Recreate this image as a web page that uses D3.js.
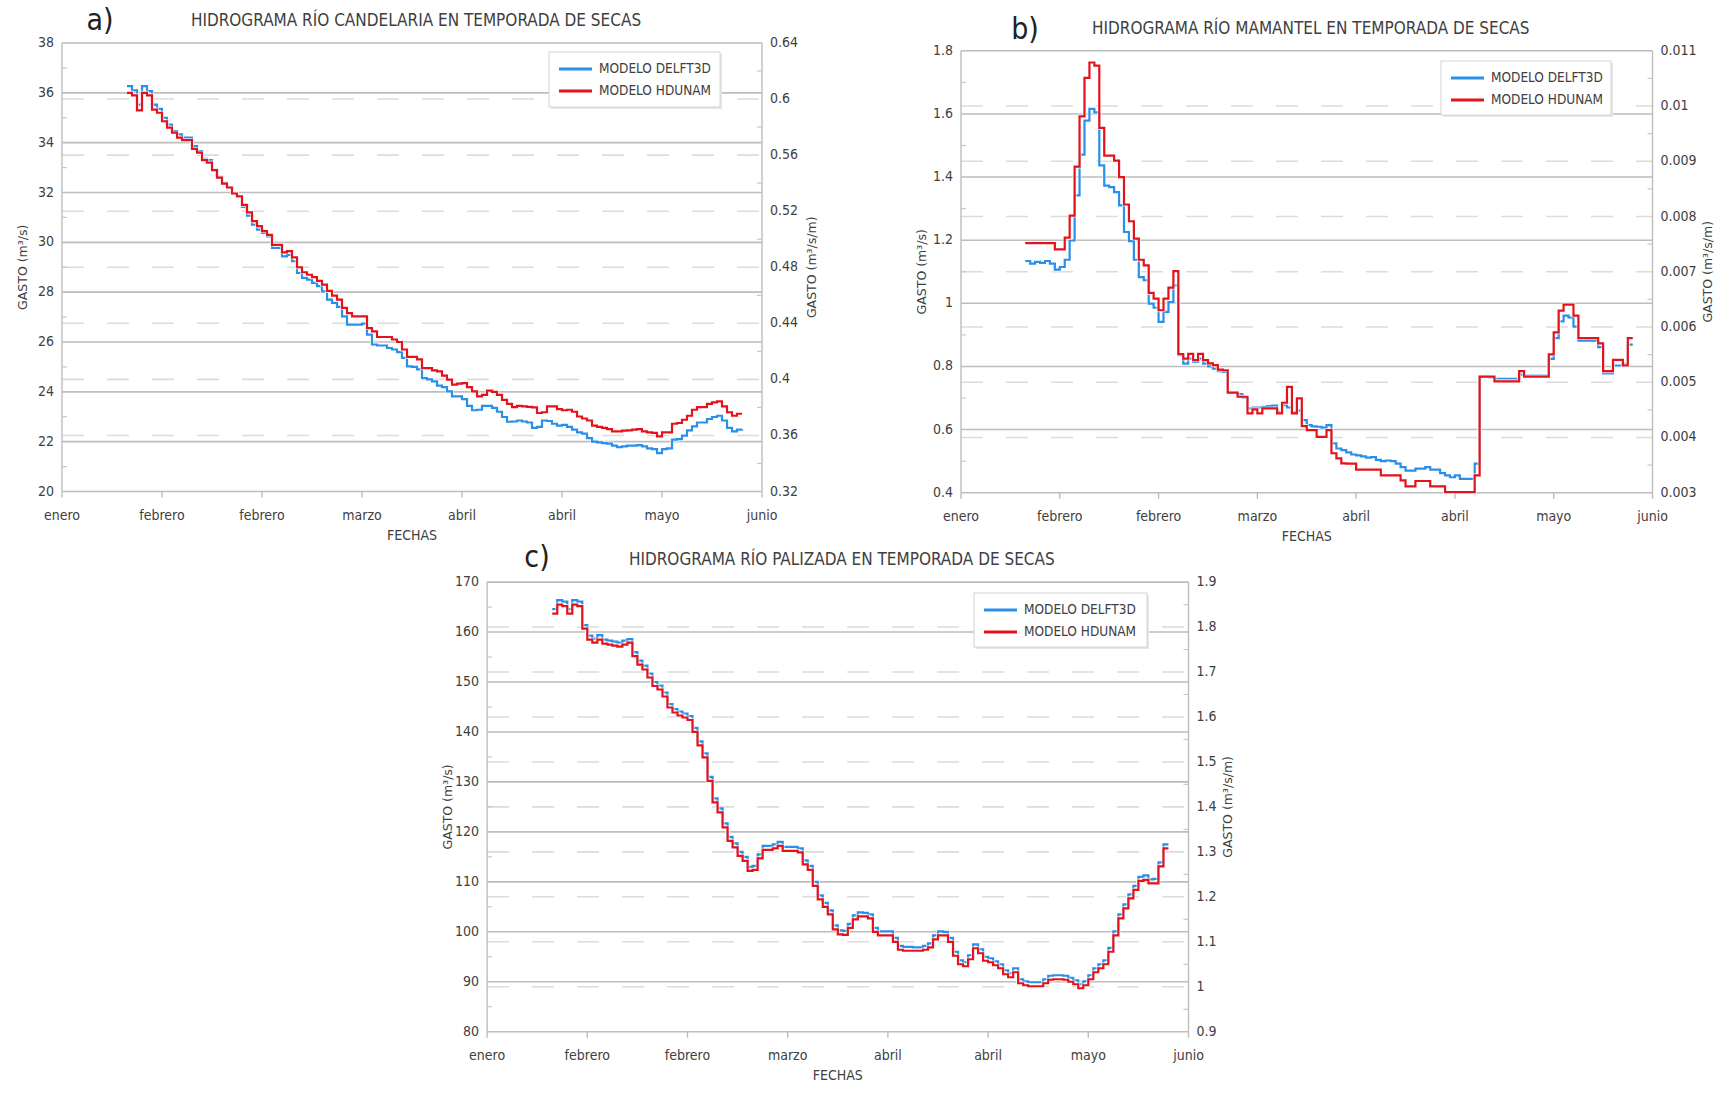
<!DOCTYPE html>
<html>
<head>
<meta charset="utf-8">
<script src="https://cdn.jsdelivr.net/npm/d3@7"></script>
<style>
  body { margin: 0; background: #fff; }
  svg text { font-family: "Liberation Sans Narrow", "DejaVu Sans Condensed", "Arial Narrow", sans-serif; fill: #404040; }
  svg text.axis-title { font-family: "DejaVu Sans", sans-serif; }
</style>
</head>
<body>
<svg id="chart" width="1732" height="1094"></svg>
<script>
// ---- shared x axis (one value per day, first value on 29 Jan) ----
const seriesStart = "2000-01-29";
const xTickDates = ["2000-01-16", "2000-02-05", "2000-02-25", "2000-03-16", "2000-04-05", "2000-04-25", "2000-05-15", "2000-06-04"];
const seriesNames = ["MODELO DELFT3D", "MODELO HDUNAM"];

// ---- a) Candelaria ----
const candelariaLeftTicks = [20, 22, 24, 26, 28, 30, 32, 34, 36, 38];
const candelariaRightTicks = [0.32, 0.36, 0.4, 0.44, 0.48, 0.52, 0.56, 0.6, 0.64];
const candelariaDelft = [
  36.27, 36.1, 35.53, 36.27, 36.07, 35.53, 35.36, 35.0, 34.73, 34.46,
  34.33, 34.2, 34.2, 33.86, 33.66, 33.35, 33.3, 32.92, 32.63, 32.39,
  32.2, 31.96, 31.82, 31.42, 31.07, 30.71, 30.51, 30.38, 30.24, 29.78,
  29.78, 29.44, 29.5, 29.24, 28.77, 28.57, 28.5, 28.37, 28.24, 28.03,
  27.7, 27.57, 27.41, 27.03, 26.7, 26.7, 26.7, 26.74, 26.3, 25.9,
  25.86, 25.86, 25.76, 25.7, 25.59, 25.36, 25.02, 25.0, 24.9, 24.55,
  24.5, 24.42, 24.25, 24.19, 24.02, 23.82, 23.82, 23.71, 23.44, 23.26,
  23.28, 23.44, 23.44, 23.36, 23.2, 22.99, 22.8, 22.81, 22.85, 22.81,
  22.77, 22.55, 22.59, 22.85, 22.83, 22.72, 22.64, 22.67, 22.59, 22.48,
  22.37, 22.32, 22.14, 22.0, 21.97, 21.94, 21.92, 21.84, 21.78, 21.81,
  21.84, 21.84, 21.86, 21.81, 21.73, 21.7, 21.54, 21.7, 21.73, 22.08,
  22.1, 22.24, 22.45, 22.61, 22.77, 22.77, 22.91, 22.99, 23.04, 22.85,
  22.55, 22.41, 22.48, 22.5
];
const candelariaHdunam = [
  36.0, 35.9, 35.3, 36.0, 35.9, 35.33, 35.2, 34.86, 34.6, 34.4,
  34.2, 34.1, 34.1, 33.75, 33.6, 33.3, 33.2, 32.9, 32.6, 32.36,
  32.2, 31.96, 31.85, 31.5, 31.2, 30.85, 30.65, 30.45, 30.3, 29.9,
  29.9, 29.6, 29.65, 29.4, 29.0, 28.8, 28.7, 28.6, 28.45, 28.3,
  28.05, 27.86, 27.7, 27.37, 27.16, 27.03, 27.03, 27.03, 26.56, 26.43,
  26.2, 26.2, 26.2, 26.1, 26.0, 25.7, 25.4, 25.4, 25.3, 24.95,
  24.95, 24.86, 24.82, 24.65, 24.49, 24.29, 24.33, 24.35, 24.19, 24.02,
  23.82, 23.88, 24.05, 24.0, 23.88, 23.68, 23.52, 23.39, 23.44, 23.42,
  23.4, 23.38, 23.15, 23.18, 23.42, 23.42, 23.31, 23.26, 23.28, 23.2,
  23.01, 22.93, 22.85, 22.64, 22.59, 22.55, 22.5, 22.41, 22.41, 22.44,
  22.45, 22.48, 22.5, 22.41, 22.37, 22.35, 22.21, 22.37, 22.37, 22.72,
  22.75, 22.88, 23.04, 23.28, 23.39, 23.39, 23.52, 23.58, 23.62, 23.42,
  23.18, 23.04, 23.12, 23.12
];

// ---- b) Mamantel ----
const mamantelLeftTicks = [0.4, 0.6, 0.8, 1, 1.2, 1.4, 1.6, 1.8];
const mamantelRightTicks = [0.003, 0.004, 0.005, 0.006, 0.007, 0.008, 0.009, 0.01, 0.011];
const mamantelDelft = [
  1.134, 1.126, 1.131, 1.128, 1.134, 1.126, 1.107, 1.115, 1.138, 1.199,
  1.342, 1.471, 1.579, 1.616, 1.605, 1.437, 1.373, 1.368, 1.352, 1.31,
  1.226, 1.197, 1.138, 1.083, 1.073, 0.999, 0.986, 0.941, 0.973, 1.004,
  1.057, 0.836, 0.809, 0.825, 0.814, 0.825, 0.809, 0.80, 0.793, 0.785,
  0.783, 0.717, 0.717, 0.712, 0.70, 0.667, 0.67, 0.67, 0.672, 0.674,
  0.676, 0.656, 0.677, 0.67, 0.655, 0.66, 0.63, 0.614, 0.61, 0.609,
  0.606, 0.614, 0.556, 0.54, 0.535, 0.528, 0.521, 0.518, 0.515, 0.511,
  0.513, 0.504, 0.50, 0.502, 0.50, 0.492, 0.481, 0.47, 0.47, 0.476,
  0.476, 0.481, 0.473, 0.473, 0.462, 0.455, 0.449, 0.455, 0.444, 0.444,
  0.444, 0.492, 0.768, 0.768, 0.765, 0.761, 0.761, 0.761, 0.761, 0.761,
  0.774, 0.771, 0.771, 0.771, 0.771, 0.771, 0.824, 0.89, 0.943, 0.961,
  0.955, 0.926, 0.882, 0.882, 0.882, 0.882, 0.861, 0.778, 0.778, 0.803,
  0.803, 0.808, 0.869, 0.869
];
const mamantelHdunam = [
  1.191, 1.191, 1.191, 1.191, 1.191, 1.191, 1.171, 1.171, 1.208, 1.278,
  1.433, 1.592, 1.714, 1.763, 1.753, 1.556, 1.468, 1.468, 1.452, 1.40,
  1.313, 1.26, 1.205, 1.138, 1.12, 1.033, 1.015, 0.978, 1.015, 1.05,
  1.102, 0.839, 0.825, 0.84, 0.82, 0.84, 0.82, 0.81, 0.804, 0.79,
  0.788, 0.717, 0.717, 0.704, 0.704, 0.651, 0.664, 0.651, 0.667, 0.667,
  0.667, 0.651, 0.685, 0.735, 0.651, 0.699, 0.611, 0.598, 0.598, 0.577,
  0.577, 0.598, 0.525, 0.509, 0.493, 0.492, 0.492, 0.473, 0.473, 0.473,
  0.473, 0.473, 0.455, 0.455, 0.455, 0.455, 0.439, 0.42, 0.42, 0.437,
  0.437, 0.437, 0.42, 0.42, 0.42, 0.402, 0.402, 0.402, 0.402, 0.402,
  0.402, 0.455, 0.768, 0.768, 0.768, 0.753, 0.753, 0.753, 0.753, 0.753,
  0.785, 0.768, 0.768, 0.768, 0.768, 0.768, 0.838, 0.908, 0.977, 0.996,
  0.996, 0.961, 0.89, 0.89, 0.89, 0.89, 0.873, 0.785, 0.785, 0.821,
  0.821, 0.803, 0.89, 0.89
];

// ---- c) Palizada ----
const palizadaLeftTicks = [80, 90, 100, 110, 120, 130, 140, 150, 160, 170];
const palizadaRightTicks = [0.9, 1, 1.1, 1.2, 1.3, 1.4, 1.5, 1.6, 1.7, 1.8, 1.9];
const palizadaDelft = [
  164.6, 166.4, 166.1, 164.6, 166.4, 166.1, 161.4, 159.3, 158.7, 159.4,
  158.5, 158.3, 158.1, 157.9, 158.3, 158.6, 156.0, 154.3, 153.3, 151.7,
  150.0, 149.3, 147.9, 145.6, 144.6, 144.1, 143.7, 143.2, 140.8, 138.1,
  135.7, 131.0, 126.7, 124.7, 121.7, 119.0, 117.7, 116.0, 115.0, 113.0,
  113.2, 115.5, 117.2, 117.2, 117.5, 118.0, 117.0, 117.0, 117.0, 116.7,
  114.3, 113.2, 110.0, 107.3, 105.8, 104.3, 101.3, 100.3, 100.2, 101.6,
  103.3, 103.9, 103.8, 103.5, 100.8, 100.1, 100.1, 100.1, 98.8, 97.2,
  97.0, 97.0, 96.9, 96.9, 97.2, 97.7, 99.3, 100.1, 100.0, 98.8,
  96.0, 94.3, 93.9, 95.3, 97.5, 96.5, 95.0, 94.7, 94.1, 93.5,
  92.3, 91.7, 92.7, 90.5, 90.1, 89.9, 89.9, 89.9, 90.5, 91.2,
  91.3, 91.3, 91.2, 90.8, 90.3, 89.5, 90.1, 91.3, 92.7, 93.5,
  94.3, 96.8, 100.1, 103.5, 105.5, 107.5, 109.2, 111.0, 111.3, 110.5,
  110.6, 113.9, 117.5, 117.5
];
const palizadaHdunam = [
  163.7, 165.5, 165.2, 163.7, 165.5, 165.2, 160.7, 158.5, 157.9, 158.5,
  157.7, 157.5, 157.3, 157.1, 157.5, 157.9, 155.2, 153.5, 152.5, 150.9,
  149.2, 148.5, 147.1, 144.9, 143.9, 143.3, 142.9, 142.4, 140.0, 137.3,
  134.9, 130.2, 125.9, 123.9, 120.9, 118.2, 116.9, 115.2, 114.2, 112.2,
  112.4, 114.7, 116.4, 116.4, 116.7, 117.2, 116.2, 116.2, 116.2, 115.9,
  113.5, 112.4, 109.2, 106.5, 105.0, 103.5, 100.5, 99.5, 99.4, 100.8,
  102.5, 103.1, 103.1, 102.7, 100.0, 99.3, 99.3, 99.3, 98.0, 96.4,
  96.2, 96.2, 96.2, 96.2, 96.4, 96.9, 98.5, 99.3, 99.3, 98.0,
  95.2, 93.5, 93.1, 94.5, 96.7, 95.7, 94.2, 93.9, 93.3, 92.7,
  91.5, 90.9, 91.9, 89.7, 89.3, 89.1, 89.1, 89.1, 89.7, 90.4,
  90.5, 90.5, 90.4, 90.0, 89.5, 88.7, 89.3, 90.5, 91.9, 92.7,
  93.5, 96.0, 99.3, 102.7, 104.7, 106.7, 108.4, 110.2, 110.4, 109.7,
  109.7, 113.1, 116.7, 116.7
];

const BLUE = "#2a8fe8";
const RED = "#e3121b";

// Spanish month names for the date axis
const esLocale = d3.timeFormatLocale({
  dateTime: "%A, %e de %B de %Y, %X", date: "%d/%m/%Y", time: "%H:%M:%S", periods: ["AM", "PM"],
  days: ["domingo", "lunes", "martes", "miércoles", "jueves", "viernes", "sábado"],
  shortDays: ["dom", "lun", "mar", "mié", "jue", "vie", "sáb"],
  months: ["enero", "febrero", "marzo", "abril", "mayo", "junio", "julio", "agosto", "septiembre", "octubre", "noviembre", "diciembre"],
  shortMonths: ["ene", "feb", "mar", "abr", "may", "jun", "jul", "ago", "sep", "oct", "nov", "dic"]
});
const monthName = esLocale.utcFormat("%B");
const parseDay = d3.utcParse("%Y-%m-%d");
const numLabel = v => String(+v.toFixed(4));

const svg = d3.select("#chart");
svg.append("rect").attr("width", 1732).attr("height", 1094).attr("fill", "#fff");

/**
 * Draw one hydrograph panel
 */
function drawChart(cfg) {
  const { box } = cfg;
  const g = svg.append("g");
  const tickDates = xTickDates.map(parseDay);
  const start = parseDay(seriesStart);

  const x = d3.scaleUtc()
    .domain([tickDates[0], tickDates[tickDates.length - 1]])
    .range([box.x0, box.x1]);
  const yL = d3.scaleLinear()
    .domain([cfg.leftTicks[0], cfg.leftTicks[cfg.leftTicks.length - 1]])
    .range([box.y1, box.y0]);
  const yR = d3.scaleLinear()
    .domain([cfg.rightTicks[0], cfg.rightTicks[cfg.rightTicks.length - 1]])
    .range([box.y1, box.y0]);

  // dashed grid at the secondary axis ticks
  g.append("g").selectAll("line")
    .data(cfg.rightTicks.slice(1, -1))
    .join("line")
    .attr("x1", box.x0).attr("x2", box.x1)
    .attr("y1", d => yR(d)).attr("y2", d => yR(d))
    .attr("stroke", "#dcdcdc").attr("stroke-width", 1.6)
    .attr("stroke-dasharray", "22,23");

  // solid grid at the main axis ticks
  g.append("g").selectAll("line")
    .data(cfg.leftTicks)
    .join("line")
    .attr("x1", box.x0).attr("x2", box.x1)
    .attr("y1", d => yL(d)).attr("y2", d => yL(d))
    .attr("stroke", "#bdbdbd").attr("stroke-width", 1.6);

  // vertical axis lines
  g.append("line").attr("x1", box.x0).attr("x2", box.x0).attr("y1", box.y0).attr("y2", box.y1)
    .attr("stroke", "#bdbdbd").attr("stroke-width", 1.4);
  g.append("line").attr("x1", box.x1).attr("x2", box.x1).attr("y1", box.y0).attr("y2", box.y1)
    .attr("stroke", "#bdbdbd").attr("stroke-width", 1.4);

  // minor ticks (midpoints)
  const leftMinor = d3.pairs(cfg.leftTicks, (a, b) => (a + b) / 2);
  const rightMinor = d3.pairs(cfg.rightTicks, (a, b) => (a + b) / 2);
  g.append("g").selectAll("line").data(leftMinor).join("line")
    .attr("x1", box.x0).attr("x2", box.x0 + 5)
    .attr("y1", d => yL(d)).attr("y2", d => yL(d))
    .attr("stroke", "#c8c8c8").attr("stroke-width", 1.2);
  g.append("g").selectAll("line").data(rightMinor).join("line")
    .attr("x1", box.x1 - 5).attr("x2", box.x1)
    .attr("y1", d => yR(d)).attr("y2", d => yR(d))
    .attr("stroke", "#c8c8c8").attr("stroke-width", 1.2);

  // x ticks and month labels
  g.append("g").selectAll("line").data(tickDates).join("line")
    .attr("x1", d => x(d)).attr("x2", d => x(d))
    .attr("y1", box.y1).attr("y2", box.y1 + 6)
    .attr("stroke", "#bdbdbd").attr("stroke-width", 1.4);
  g.append("g").selectAll("text").data(tickDates).join("text")
    .attr("x", d => x(d)).attr("y", box.y1 + 24)
    .attr("text-anchor", "middle").attr("dominant-baseline", "middle")
    .attr("font-size", 14)
    .text(d => monthName(d));

  // y labels
  g.append("g").selectAll("text").data(cfg.leftTicks).join("text")
    .attr("x", box.x0 - 8).attr("y", d => yL(d))
    .attr("text-anchor", "end").attr("dominant-baseline", "middle")
    .attr("font-size", 14)
    .text(numLabel);
  g.append("g").selectAll("text").data(cfg.rightTicks).join("text")
    .attr("x", box.x1 + 8).attr("y", d => yR(d))
    .attr("text-anchor", "start").attr("dominant-baseline", "middle")
    .attr("font-size", 14)
    .text(numLabel);

  // axis titles
  const midY = (box.y0 + box.y1) / 2;
  g.append("text").attr("class", "axis-title")
    .attr("transform", `translate(${box.x0 - 39},${midY}) rotate(-90)`)
    .attr("text-anchor", "middle").attr("dominant-baseline", "middle")
    .attr("font-size", 12.5)
    .text("GASTO (m³/s)");
  g.append("text").attr("class", "axis-title")
    .attr("transform", `translate(${box.x1 + cfg.rightTitleGap},${midY}) rotate(-90)`)
    .attr("text-anchor", "middle").attr("dominant-baseline", "middle")
    .attr("font-size", 12.5)
    .text("GASTO (m³/s/m)");
  g.append("text")
    .attr("x", (box.x0 + box.x1) / 2).attr("y", box.y1 + 44)
    .attr("text-anchor", "middle").attr("dominant-baseline", "middle")
    .attr("font-size", 14)
    .text("FECHAS");

  // chart title and panel tag
  g.append("text")
    .attr("x", (box.x0 + box.x1) / 2 + 4).attr("y", box.y0 - 22)
    .attr("text-anchor", "middle").attr("dominant-baseline", "middle")
    .attr("font-size", 17)
    .text(cfg.title);
  g.append("text")
    .attr("x", cfg.tag.x).attr("y", cfg.tag.y)
    .attr("text-anchor", "middle").attr("dominant-baseline", "middle")
    .attr("font-size", 30)
    .style("fill", "#222")
    .text(cfg.tag.label);

  // the two step lines
  const line = d3.line()
    .x((d, i) => x(d3.utcDay.offset(start, i)))
    .y(d => yL(d))
    .curve(d3.curveStepAfter);
  [[cfg.blue, BLUE], [cfg.red, RED]].forEach(([values, color]) => {
    g.append("path")
      .datum(values)
      .attr("fill", "none")
      .attr("stroke", "#fff").attr("stroke-opacity", 0.7)
      .attr("stroke-width", 4)
      .attr("d", line);
    g.append("path")
      .datum(values)
      .attr("fill", "none")
      .attr("stroke", color)
      .attr("stroke-width", 2.2)
      .attr("d", line);
  });

  // legend
  const lg = cfg.legend;
  const leg = g.append("g").attr("transform", `translate(${lg.x},${lg.y})`);
  leg.append("rect").attr("x", 2).attr("y", 2).attr("width", lg.w).attr("height", lg.h)
    .attr("fill", "#e6e6e6");
  leg.append("rect").attr("width", lg.w).attr("height", lg.h)
    .attr("fill", "#fff").attr("stroke", "#d4d4d4").attr("stroke-width", 1);
  leg.selectAll("g.item")
    .data([[seriesNames[0], BLUE], [seriesNames[1], RED]])
    .join("g").attr("class", "item")
    .attr("transform", (d, i) => `translate(10,${17 + i * 22})`)
    .call(item => item.append("line")
      .attr("x1", 0).attr("x2", 33).attr("y1", 0).attr("y2", 0)
      .attr("stroke", d => d[1]).attr("stroke-width", 2.8))
    .call(item => item.append("text")
      .attr("x", 40).attr("y", 0).attr("dominant-baseline", "middle")
      .attr("font-size", 13.5)
      .text(d => d[0]));
}

drawChart({
  box: { x0: 62, x1: 762, y0: 43, y1: 491.5 },
  title: "HIDROGRAMA RÍO CANDELARIA EN TEMPORADA DE SECAS",
  tag: { label: "a)", x: 100, y: 21 },
  leftTicks: candelariaLeftTicks, rightTicks: candelariaRightTicks,
  blue: candelariaDelft, red: candelariaHdunam,
  rightTitleGap: 50,
  legend: { x: 549, y: 52, w: 171, h: 55 }
});

drawChart({
  box: { x0: 961, x1: 1652.5, y0: 50.8, y1: 492.7 },
  title: "HIDROGRAMA RÍO MAMANTEL EN TEMPORADA DE SECAS",
  tag: { label: "b)", x: 1025, y: 30 },
  leftTicks: mamantelLeftTicks, rightTicks: mamantelRightTicks,
  blue: mamantelDelft, red: mamantelHdunam,
  rightTitleGap: 56,
  legend: { x: 1441, y: 61, w: 170, h: 54 }
});

drawChart({
  box: { x0: 487.1, x1: 1188.5, y0: 582.1, y1: 1031.7 },
  title: "HIDROGRAMA RÍO PALIZADA EN TEMPORADA DE SECAS",
  tag: { label: "c)", x: 537, y: 558 },
  leftTicks: palizadaLeftTicks, rightTicks: palizadaRightTicks,
  blue: palizadaDelft, red: palizadaHdunam,
  rightTitleGap: 40,
  legend: { x: 974, y: 593, w: 173, h: 54 }
});
</script>
</body>
</html>
